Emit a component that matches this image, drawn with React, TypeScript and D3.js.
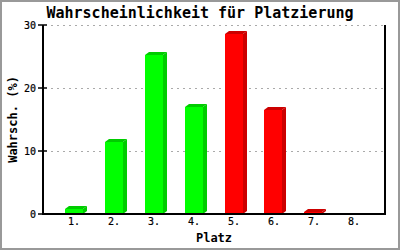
import React from "react";
import * as d3 from "d3";

const places = ["1.", "2.", "3.", "4.", "5.", "6.", "7.", "8."];
const probs = [0.8, 11.5, 25.3, 17.0, 28.6, 16.5, 0.3, 0];
const barColors = ["#00ff00", "#00ff00", "#00ff00", "#00ff00", "#ff0000", "#ff0000", "#ff0000", "#ff0000"];
const sideColors = ["#00cc00", "#00cc00", "#00cc00", "#00cc00", "#cc0000", "#cc0000", "#cc0000", "#cc0000"];
const yTicks = [0, 10, 20, 30];
const title = "Wahrscheinlichkeit für Platzierung";
const xTitle = "Platz";
const yTitle = "Wahrsch. (%)";

const W = 400;
const H = 250;
const left = 43;
const right = 385;
const top = 25;
const bottom = 214;
const depthX = 4;
const depthY = 3;
const mono = "'DejaVu Sans Mono', monospace";

export default function App() {
  const x = d3.scaleBand<string>().domain(places).range([left, right]).padding(0.556);
  const y = d3.scaleLinear().domain([0, 30]).range([bottom, top]);

  return (
    <svg width={W} height={H} style={{ position: "absolute", left: 0, top: 0 }}>
      <rect x={0} y={0} width={W} height={H} fill="#fff" />
      <rect x={1} y={1} width={W - 2} height={H - 2} fill="none" stroke="#999" strokeWidth={2} />
      <text x={200} y={18} textAnchor="middle" fontFamily={mono} fontWeight="bold" fontSize={15}>
        {title}
      </text>
      {yTicks.filter((t) => t > 0).map((t) => (
        <line key={"g" + t} x1={left + 8} x2={right} y1={y(t) + 0.5} y2={y(t) + 0.5} stroke="#aaa" strokeWidth={1} strokeDasharray="2,4" shapeRendering="crispEdges" />
      ))}
      {places.map((p, i) => {
        const v = probs[i];
        if (v <= 0) return null;
        const x0 = Math.round((x(p) as number) - 0.6);
        const w = Math.round(x.bandwidth());
        const yt = Math.round(y(v));
        const yb = y(0);
        const side = `M${x0 + w},${yt} L${x0 + w + depthX},${yt - depthY} L${x0 + w + depthX},${yb - depthY} L${x0 + w},${yb} Z`;
        const topFace = `M${x0},${yt} L${x0 + depthX},${yt - depthY} L${x0 + w + depthX},${yt - depthY} L${x0 + w},${yt} Z`;
        return (
          <g key={p}>
            <path d={side} fill={sideColors[i]} />
            <path d={topFace} fill={sideColors[i]} />
            <rect x={x0} y={yt} width={w} height={yb - yt} fill={barColors[i]} />
          </g>
        );
      })}
      <line x1={left} x2={left} y1={top} y2={bottom + 1} stroke="#000" strokeWidth={2} />
      <line x1={right} x2={right} y1={top} y2={bottom + 1} stroke="#000" strokeWidth={2} />
      <line x1={left} x2={right + 1} y1={bottom} y2={bottom} stroke="#000" strokeWidth={2} />
      {yTicks.map((t) => (
        <g key={"t" + t}>
          <line x1={38} x2={47} y1={y(t)} y2={y(t)} stroke="#000" strokeWidth={1.5} />
          <text x={36} y={y(t)} dy="0.35em" textAnchor="end" fontFamily={mono} fontSize={10} stroke="#000" strokeWidth={0.2}>
            {t}
          </text>
        </g>
      ))}
      {places.map((p) => (
        <text key={"l" + p} x={(x(p) as number) + x.bandwidth() / 2} y={225} textAnchor="middle" fontFamily={mono} fontSize={10} stroke="#000" strokeWidth={0.2}>
          {p}
        </text>
      ))}
      <text x={214} y={242} textAnchor="middle" fontFamily={mono} fontWeight="bold" fontSize={12}>
        {xTitle}
      </text>
      <text transform={`translate(17,${(top + bottom) / 2}) rotate(-90)`} textAnchor="middle" fontFamily={mono} fontWeight="bold" fontSize={12}>
        {yTitle}
      </text>
    </svg>
  );
}
